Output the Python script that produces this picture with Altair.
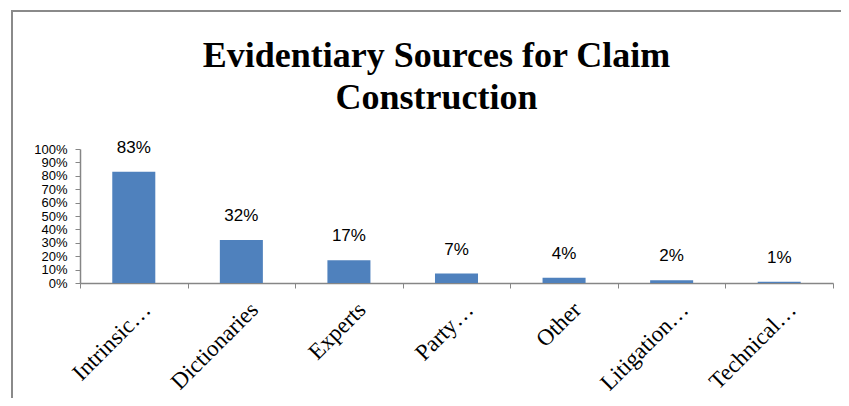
import altair as alt
import pandas as pd

categories = ["Intrinsic…", "Dictionaries", "Experts", "Party…", "Other", "Litigation…", "Technical…"]
values = [0.83, 0.32, 0.17, 0.07, 0.04, 0.02, 0.01]
y_ticks = [0, 0.1, 0.2, 0.3, 0.4, 0.5, 0.6, 0.7, 0.8, 0.9, 1.0]
title_lines = ["Evidentiary Sources for Claim", "Construction"]

df = pd.DataFrame({"cat": categories, "val": values})

x_enc = alt.X(
    "cat:N",
    sort=categories,
    scale=alt.Scale(paddingInner=0, paddingOuter=0),
    axis=alt.Axis(
        title=None,
        labelAngle=-45,
        labelFont="Liberation Serif",
        labelFontSize=23,
        labelColor="black",
        labelPadding=10,
        labelOffset=5,
        tickBand="extent",
        tickSize=5,
        tickColor="#868686",
        domainColor="#868686",
        domainWidth=1.5,
        labelOverlap=False,
    ),
)
y_enc = alt.Y(
    "val:Q",
    scale=alt.Scale(domain=[0, 1], nice=False),
    axis=alt.Axis(
        title=None,
        values=y_ticks,
        format=".0%",
        labelFont="Liberation Sans",
        labelFontSize=13,
        labelColor="black",
        labelOverlap=False,
        labelPadding=8,
        tickSize=5,
        tickColor="#868686",
        domainColor="#868686",
        domainWidth=1.5,
        grid=False,
    ),
)

frame = alt.Chart(alt.Data(values=[{}])).mark_rect(
    fill=None, stroke="#8a8a8a", strokeWidth=2
).encode(
    x=alt.value(-68), x2=alt.value(900), y=alt.value(-138), y2=alt.value(400)
)

bars = alt.Chart(df).mark_bar(color="#4F81BD", width={"band": 0.4}).encode(x=x_enc, y=y_enc)

labels = alt.Chart(df).mark_text(
    font="Liberation Sans", fontSize=17, color="black", baseline="bottom", dy=-15
).encode(
    x=x_enc,
    y=y_enc,
    text=alt.Text("val:Q", format=".0%"),
)

chart = alt.layer(frame, bars, labels).properties(
    width=753,
    height=134,
    autosize="none",
    padding={"left": 72, "top": 141, "right": 8, "bottom": 115},
    title=alt.TitleParams(
        text=title_lines,
        font="Liberation Serif",
        fontSize=36,
        fontWeight="bold",
        color="black",
        anchor="middle",
        frame="group",
        dx=-20,
        offset=-107,
        lineHeight=42,
    ),
).configure_view(stroke=None)

chart.save("out.html", embed_options={"renderer": "svg", "actions": False})
